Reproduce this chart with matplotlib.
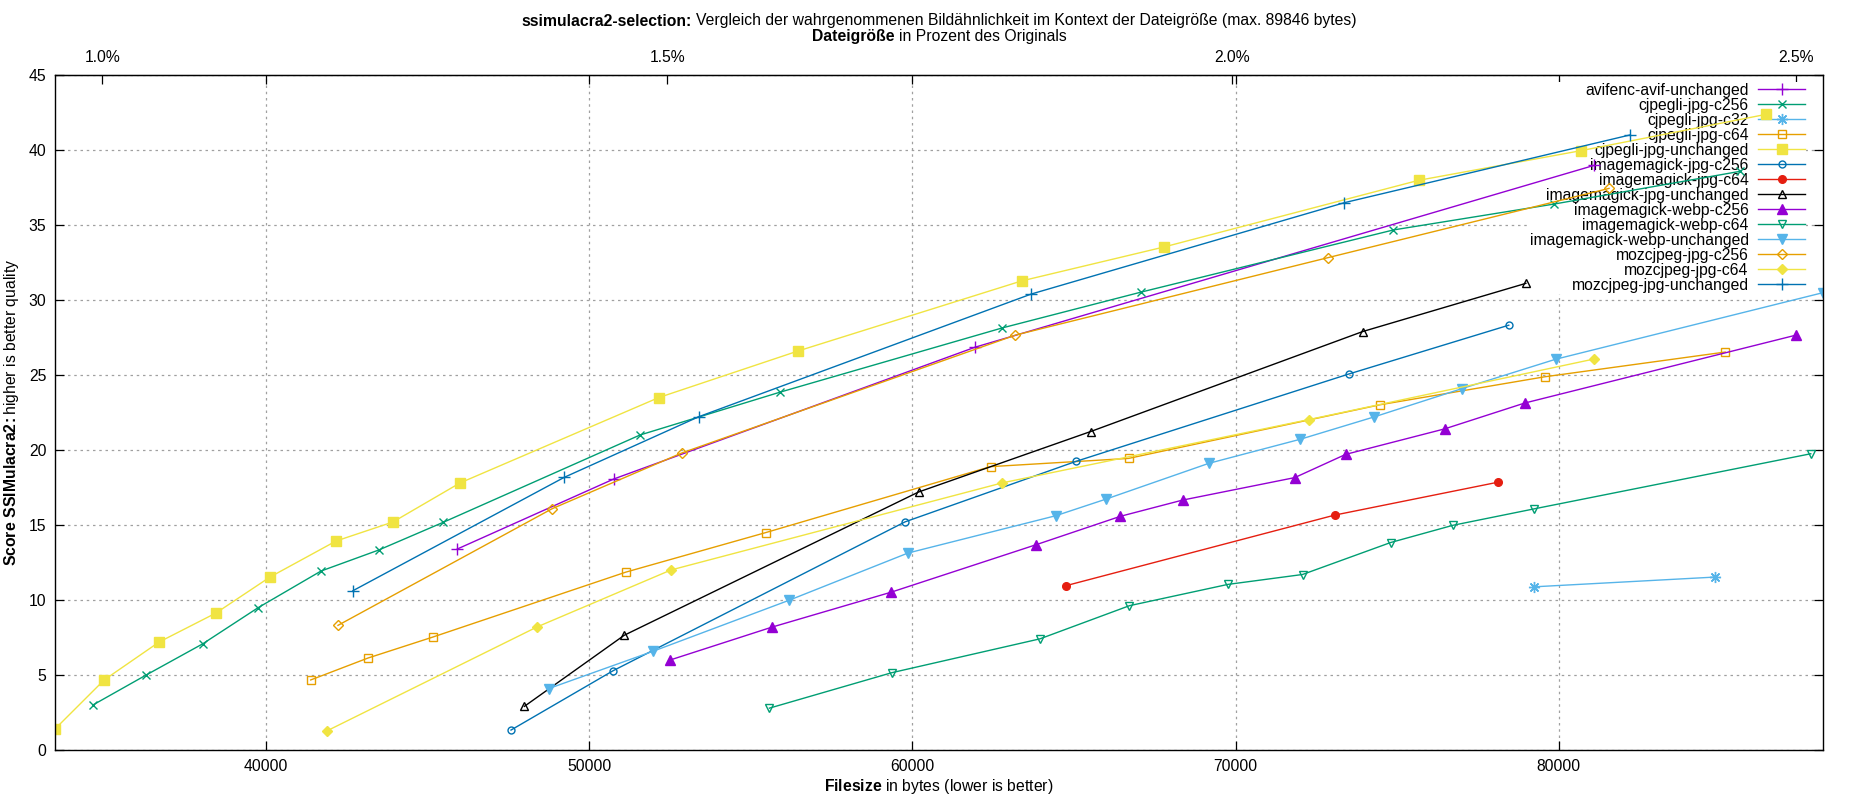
import matplotlib
matplotlib.use("Agg")
import matplotlib.pyplot as plt
from matplotlib.ticker import MultipleLocator, FuncFormatter
from matplotlib.offsetbox import TextArea, HPacker, AnchoredOffsetbox

plt.rcParams['font.family'] = ['Liberation Sans', 'DejaVu Sans']
plt.rcParams['mathtext.fontset'] = 'custom'
plt.rcParams['mathtext.rm'] = 'Liberation Sans'
plt.rcParams['mathtext.bf'] = 'Liberation Sans:bold'

FS = 11.3
ORIGINAL_BYTES = 3494000

# Daten: Dateigroesse (bytes) und SSIMulacra2-Score pro Encoder
avifenc_size = [45920, 50762, 61947, 81097]
avifenc_score = [13.4, 18.07, 26.86, 38.98]

cjpegli_c256_size = [34661, 36293, 38036, 39743, 41701, 43485, 45473, 51572, 55894, 62781, 67080, 74880, 79861, 85612]
cjpegli_c256_score = [3.02, 5.0, 7.07, 9.47, 11.93, 13.33, 15.17, 21.0, 23.85, 28.14, 30.53, 34.67, 36.4, 38.58]

cjpegli_c32_size = [79243, 84842]
cjpegli_c32_score = [10.88, 11.53]

cjpegli_c64_size = [41383, 43154, 45162, 51135, 55470, 62415, 66688, 74477, 79559, 85145]
cjpegli_c64_score = [4.67, 6.13, 7.53, 11.86, 14.5, 18.89, 19.44, 23.02, 24.88, 26.53]

cjpegli_unch_size = [33472, 34993, 36694, 38451, 40124, 42165, 43927, 45999, 52157, 56460, 63375, 67775, 75662, 80694, 86419]
cjpegli_unch_score = [1.4, 4.67, 7.2, 9.13, 11.53, 13.93, 15.2, 17.8, 23.5, 26.6, 31.27, 33.53, 37.98, 39.96, 42.38]

im_jpg_c256_size = [47580, 50734, 59772, 65057, 73506, 78449]
im_jpg_c256_score = [1.33, 5.28, 15.21, 19.24, 25.07, 28.32]

im_jpg_c64_size = [64741, 73064, 78108]
im_jpg_c64_score = [10.95, 15.66, 17.85]

im_jpg_unch_size = [47994, 51084, 60190, 65512, 73934, 78979]
im_jpg_unch_score = [2.91, 7.65, 17.2, 21.23, 27.9, 31.11]

im_webp_c256_size = [52503, 55651, 59340, 63831, 66435, 68356, 71828, 73405, 76469, 78941, 87339]
im_webp_c256_score = [6.0, 8.19, 10.52, 13.69, 15.58, 16.66, 18.16, 19.71, 21.41, 23.13, 27.66]

im_webp_c64_size = [55575, 59355, 63944, 66713, 69760, 72068, 74792, 76721, 79243, 87793]
im_webp_c64_score = [2.79, 5.15, 7.41, 9.62, 11.04, 11.70, 13.83, 14.98, 16.08, 19.75]

im_webp_unch_size = [48741, 51960, 56180, 59860, 64437, 65980, 69168, 72005, 74275, 77011, 79899, 88171]
im_webp_unch_score = [4.09, 6.57, 9.98, 13.13, 15.62, 16.72, 19.11, 20.72, 22.2, 24.1, 26.05, 30.49]

moz_c256_size = [42227, 48856, 52862, 63186, 72850, 81551]
moz_c256_score = [8.31, 16.09, 19.8, 27.66, 32.82, 37.44]

moz_c64_size = [41881, 48382, 52528, 62781, 72270, 81097]
moz_c64_score = [1.27, 8.2, 12.0, 17.81, 22.03, 26.07]

moz_unch_size = [42690, 49230, 53390, 63679, 73367, 82194]
moz_unch_score = [10.62, 18.18, 22.22, 30.4, 36.49, 41.0]

# (label, x, y, farbe, marker, gefuellt, markergroesse)
series = [
    ("avifenc-avif-unchanged", avifenc_size, avifenc_score, "#9400d3", "+", True, 8),
    ("cjpegli-jpg-c256", cjpegli_c256_size, cjpegli_c256_score, "#009e73", "x", True, 6),
    ("cjpegli-jpg-c32", cjpegli_c32_size, cjpegli_c32_score, "#56b4e9", (8, 2, 0), True, 8),
    ("cjpegli-jpg-c64", cjpegli_c64_size, cjpegli_c64_score, "#e69f00", "s", False, 6),
    ("cjpegli-jpg-unchanged", cjpegli_unch_size, cjpegli_unch_score, "#f0e442", "s", True, 6.5),
    ("imagemagick-jpg-c256", im_jpg_c256_size, im_jpg_c256_score, "#0072b2", "o", False, 5),
    ("imagemagick-jpg-c64", im_jpg_c64_size, im_jpg_c64_score, "#e51e10", "o", True, 5.5),
    ("imagemagick-jpg-unchanged", im_jpg_unch_size, im_jpg_unch_score, "#000000", "^", False, 6),
    ("imagemagick-webp-c256", im_webp_c256_size, im_webp_c256_score, "#9400d3", "^", True, 7),
    ("imagemagick-webp-c64", im_webp_c64_size, im_webp_c64_score, "#009e73", "v", False, 6),
    ("imagemagick-webp-unchanged", im_webp_unch_size, im_webp_unch_score, "#56b4e9", "v", True, 7),
    ("mozcjpeg-jpg-c256", moz_c256_size, moz_c256_score, "#e69f00", "D", False, 5),
    ("mozcjpeg-jpg-c64", moz_c64_size, moz_c64_score, "#f0e442", "D", True, 5),
    ("mozcjpeg-jpg-unchanged", moz_unch_size, moz_unch_score, "#0072b2", "+", True, 8),
]

fig = plt.figure(figsize=(18.5, 8), dpi=100)
ax = fig.add_axes([55 / 1850, 1 - 750 / 800, (1823 - 55) / 1850, (750 - 75) / 800])

for label, xs, ys, col, mk, filled, ms in series:
    ax.plot(xs, ys, color=col, lw=1.0, marker=mk, markersize=ms,
            markerfacecolor=col if filled else "none", markeredgecolor=col,
            markeredgewidth=1.0, label=label, zorder=2)

all_x = [v for s in series for v in s[1]]
ax.set_xlim(min(all_x), max(all_x))
ax.set_ylim(0, 45)
ax.xaxis.set_major_locator(MultipleLocator(10000))
ax.yaxis.set_major_locator(MultipleLocator(5))
ax.xaxis.set_major_formatter(FuncFormatter(lambda v, p: f"{int(v)}"))

ax.set_axisbelow(True)
ax.grid(True, color="#a0a0a0", linestyle=(0, (2, 3)), lw=0.9)
ax.tick_params(direction="in", length=6.5, width=0.9, top=True, right=True,
               labelsize=FS, pad=6.2)
for sp in ax.spines.values():
    sp.set_linewidth(1.0)

# obere Achse: Prozent des Originals
sec = ax.secondary_xaxis("top", functions=(lambda b: b / ORIGINAL_BYTES * 100,
                                          lambda p: p * ORIGINAL_BYTES / 100))
sec.set_xticks([1.0, 1.5, 2.0, 2.5])
sec.xaxis.set_major_formatter(FuncFormatter(lambda v, p: f"{v:.1f}%"))
sec.tick_params(direction="in", length=6.5, width=0.9, labelsize=FS, pad=7)

ax.set_xlabel(r"$\mathbf{Filesize}$ in bytes (lower is better)", fontsize=FS)
ax.xaxis.label.set_va("center")
ax.xaxis.set_label_coords(0.5, -(786 - 750) / 675)
ax.set_ylabel(r"$\mathbf{Score\ SSIMulacra2\!:}$higher is better quality", fontsize=FS)
ax.yaxis.label.set_va("center")
ax.yaxis.set_label_coords(-(55 - 12) / 1768, 0.5)


def two_part(bold, normal, y):
    box = HPacker(children=[TextArea(bold, textprops=dict(fontweight="bold", fontsize=FS)),
                            TextArea(normal, textprops=dict(fontsize=FS))],
                  align="baseline", pad=0, sep=3)
    anch = AnchoredOffsetbox(loc="center", child=box, pad=0, frameon=False, borderpad=0,
                             bbox_to_anchor=(0.5076, y), bbox_transform=fig.transFigure)
    fig.add_artist(anch)


two_part("ssimulacra2-selection:",
         "Vergleich der wahrgenommenen Bildähnlichkeit im Kontext der Dateigröße (max. 89846 bytes)",
         1 - 21 / 800)
two_part("Dateigröße", "in Prozent des Originals", 1 - 37 / 800)

leg = ax.legend(loc="upper right", bbox_to_anchor=((1806 - 55) / 1768, (750 - 82) / 675),
                markerfirst=False, frameon=True, fancybox=False, edgecolor="none",
                facecolor="white", framealpha=1, fontsize=FS, handlelength=3.0,
                handletextpad=0.6, labelspacing=0.0, borderpad=0.05, borderaxespad=0)
leg.set_zorder(1.5)

fig.savefig("out.png", dpi=100)
